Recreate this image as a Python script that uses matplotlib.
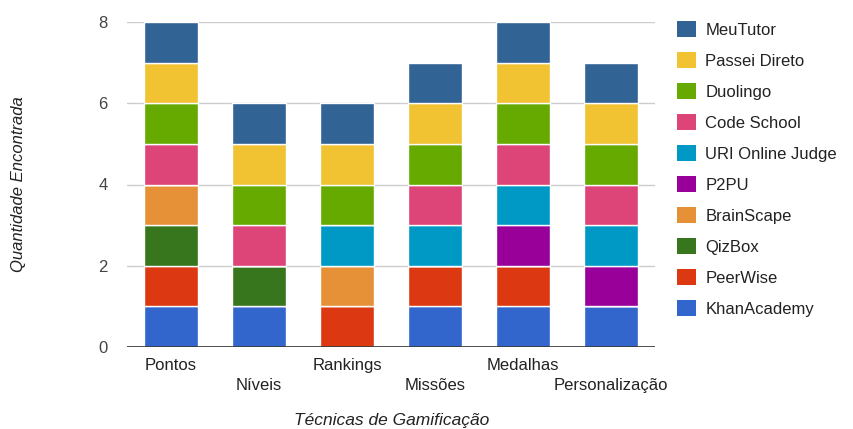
import numpy as np
import matplotlib.pyplot as plt
from matplotlib.patches import Patch

plt.rcParams['font.family'] = ['Liberation Sans', 'DejaVu Sans']

# categories (x axis) and one 0/1 series per tool, stacked bottom to top
categories = ["Pontos", "Níveis", "Rankings", "Missões", "Medalhas", "Personalização"]
tools = ["KhanAcademy", "PeerWise", "QizBox", "BrainScape", "P2PU",
         "URI Online Judge", "Code School", "Duolingo", "Passei Direto", "MeuTutor"]
counts = {
    "KhanAcademy":      [1, 1, 0, 1, 1, 1],
    "PeerWise":         [1, 0, 1, 1, 1, 0],
    "QizBox":           [1, 1, 0, 0, 0, 0],
    "BrainScape":       [1, 0, 1, 0, 0, 0],
    "P2PU":             [0, 0, 0, 0, 1, 1],
    "URI Online Judge": [0, 0, 1, 1, 1, 1],
    "Code School":      [1, 1, 0, 1, 1, 1],
    "Duolingo":         [1, 1, 1, 1, 1, 1],
    "Passei Direto":    [1, 1, 1, 1, 1, 1],
    "MeuTutor":         [1, 1, 1, 1, 1, 1],
}
colors = {
    "KhanAcademy": "#3366cc",
    "PeerWise": "#dc3912",
    "QizBox": "#38761d",
    "BrainScape": "#e69138",
    "P2PU": "#990099",
    "URI Online Judge": "#0099c6",
    "Code School": "#dd4477",
    "Duolingo": "#66aa00",
    "Passei Direto": "#f1c232",
    "MeuTutor": "#316395",
}

fig = plt.figure(figsize=(8.54, 4.29), dpi=100)
ax = fig.add_axes([127 / 854, 1 - 347 / 429, 528 / 854, 325 / 429])

x = np.arange(len(categories))
bottom = np.zeros(len(categories))
for t in tools:
    vals = np.array(counts[t], dtype=float)
    ax.bar(x, vals, 0.62, bottom=bottom, color=colors[t],
           edgecolor="white", linewidth=1, zorder=3)
    bottom += vals

ax.set_xlim(-0.5, len(categories) - 0.5)
ax.set_ylim(0, 8)
ax.set_yticks([0, 2, 4, 6, 8])
ax.yaxis.grid(True, color="#cccccc", linewidth=1, zorder=0)
ax.axhline(0, color="#333333", linewidth=1.2, zorder=4)
for s in ax.spines.values():
    s.set_visible(False)
ax.tick_params(axis="y", length=0, pad=14, labelsize=12, labelcolor="#444444")
ax.tick_params(axis="x", length=0)
ax.set_xticks(x)
ax.set_xticklabels([])

# staggered category labels
for i, c in enumerate(categories):
    y = -0.45 if i % 2 == 0 else -0.95
    ax.text(i, y, c, ha="center", va="center", fontsize=12, color="#222222")

ax.text(-0.206, 0.5, "Quantidade Encontrada", transform=ax.transAxes, rotation=90,
        ha="center", va="center", fontsize=12, style="italic", color="#222222")
fig.text(392 / 854, 1 - 421 / 429, "Técnicas de Gamificação", ha="center", va="center",
         fontsize=12.5, style="italic", color="#222222")

handles = [Patch(facecolor=colors[t], edgecolor="none") for t in reversed(tools)]
fig.legend(handles, list(reversed(tools)), loc="upper left",
           bbox_to_anchor=(677 / 854, 1 - 21 / 429), frameon=False,
           fontsize=12, handlelength=1.15, handleheight=1.1, handletextpad=0.55,
           labelspacing=0.86, labelcolor="#222222", borderpad=0, borderaxespad=0)

fig.savefig("out.png", dpi=100)
